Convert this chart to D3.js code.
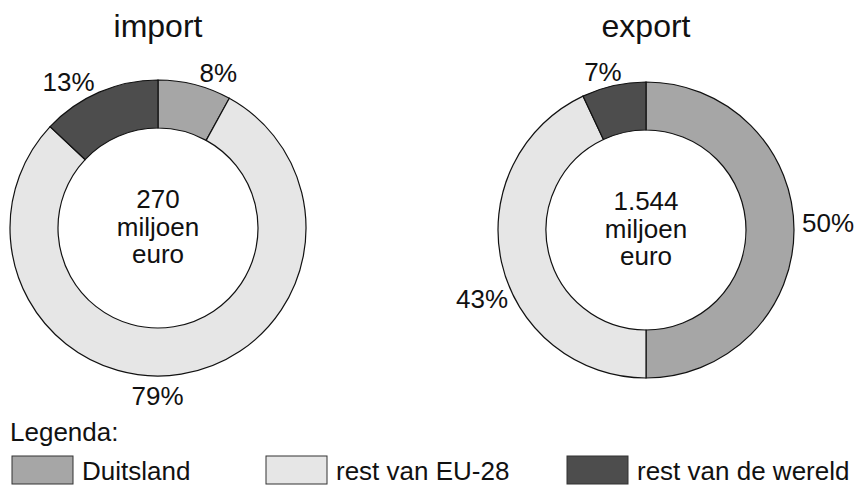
<!DOCTYPE html>
<html>
<head>
<meta charset="utf-8">
<script src="https://cdn.jsdelivr.net/npm/d3@7"></script>
<style>
  body { margin: 0; background: #fff; }
  text { font-family: "Liberation Sans", Arial, sans-serif; fill: #111; }
</style>
</head>
<body>
<div id="chart"></div>
<script>
// categories and values (percent)
const categories = ["Duitsland", "rest van EU-28", "rest van de wereld"];
const colors = ["#a6a6a6", "#e6e6e6", "#4d4d4d"];
const importValues = [8, 79, 13];
const exportValues = [50, 43, 7];
const importTotal = ["270", "miljoen", "euro"];
const exportTotal = ["1.544", "miljoen", "euro"];

const width = 858, height = 487;

const svg = d3.select("#chart")
  .append("svg")
    .attr("width", width)
    .attr("height", height);

const color = d3.scaleOrdinal().domain(categories).range(colors);

const pie = d3.pie().sort(null).value(function(d) { return d.value; });
const outerR = 148, innerR = 100;
const arc = d3.arc().innerRadius(innerR).outerRadius(outerR);
const labelArc = d3.arc().innerRadius(170).outerRadius(170);

function donut(cx, cy, title, values, total, labelOffsets) {
  const data = categories.map(function(c, i) { return {cat: c, value: values[i]}; });
  const g = svg.append("g")
    .attr("transform", "translate(" + cx + "," + cy + ")");

  g.selectAll("path")
    .data(pie(data))
    .enter()
    .append("path")
      .attr("d", arc)
      .attr("fill", function(d) { return color(d.data.cat); })
      .attr("stroke", "#111")
      .attr("stroke-width", 1.2);

  // percent labels outside the ring, nudged like the original
  g.selectAll(".pct")
    .data(pie(data))
    .enter()
    .append("text")
      .attr("class", "pct")
      .attr("transform", function(d, i) {
        const p = labelArc.centroid(d);
        return "translate(" + (p[0] + labelOffsets[i][0]) + "," + (p[1] + labelOffsets[i][1]) + ")";
      })
      .attr("text-anchor", "middle")
      .attr("dy", "0.35em")
      .style("font-size", "26px")
      .text(function(d) { return d.data.value + "%"; });

  g.append("text")
    .attr("x", 0)
    .attr("y", -cy + 37)
    .attr("text-anchor", "middle")
    .style("font-size", "32px")
    .text(title);

  g.selectAll(".tot")
    .data(total)
    .enter()
    .append("text")
      .attr("class", "tot")
      .attr("x", 0)
      .attr("y", function(d, i) { return -20 + i * 27.5; })
      .attr("text-anchor", "middle")
      .style("font-size", "26px")
      .text(function(d) { return d; });
}

donut(158, 228, "import", importValues, importTotal, [[18, 10], [-27, 0], [-22, 10]]);
donut(646, 230, "export", exportValues, exportTotal, [[12, -7], [2, 32], [-6, 8]]);

// legend
svg.append("text")
  .attr("x", 10)
  .attr("y", 441)
  .style("font-size", "26px")
  .text("Legenda:");

const legendX = [12, 266, 567];
const leg = svg.selectAll(".leg")
  .data(categories)
  .enter()
  .append("g")
    .attr("class", "leg")
    .attr("transform", function(d, i) { return "translate(" + legendX[i] + ",456)"; });

leg.append("rect")
  .attr("width", 61)
  .attr("height", 28)
  .attr("fill", function(d) { return color(d); })
  .attr("stroke", "#333")
  .attr("stroke-width", 1);

leg.append("text")
  .attr("x", 70)
  .attr("y", 24)
  .style("font-size", "26px")
  .text(function(d) { return d; });
</script>
</body>
</html>
